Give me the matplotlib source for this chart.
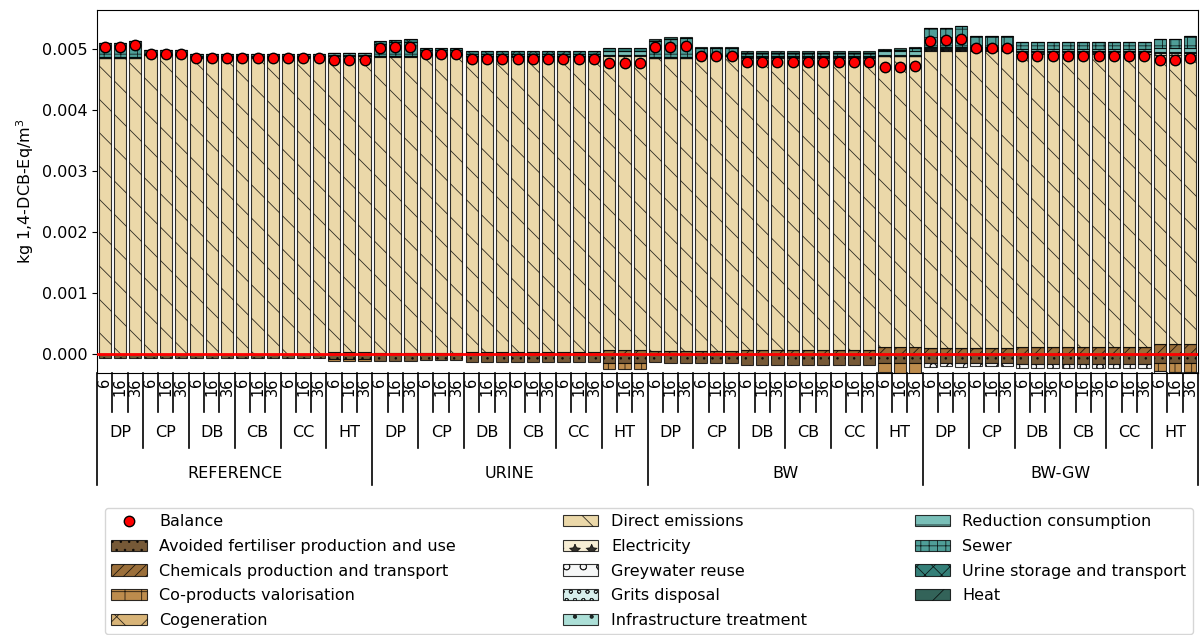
import numpy as np
import matplotlib
matplotlib.use("Agg")
import matplotlib.pyplot as plt
from matplotlib.lines import Line2D
import matplotlib.transforms as mtransforms

scenarios = ["REFERENCE", "URINE", "BW", "BW-GW"]
techs = ["DP", "CP", "DB", "CB", "CC", "HT"]
sizes = ["6", "16", "36"]

# values in 1e-3 kg 1,4-DCB-Eq/m3 ; per scenario: DP(6,16,36) CP DB CB CC HT
avoided_fertiliser = [
    -0.07, -0.07, -0.07, -0.06, -0.06, -0.06, -0.07, -0.07, -0.07, -0.07, -0.07, -0.07, -0.07, -0.07, -0.07, -0.08, -0.08, -0.08,
    -0.12, -0.12, -0.12, -0.10, -0.10, -0.10, -0.13, -0.13, -0.13, -0.13, -0.13, -0.13, -0.13, -0.13, -0.13, -0.14, -0.14, -0.14,
    -0.13, -0.15, -0.15, -0.14, -0.14, -0.14, -0.18, -0.18, -0.18, -0.18, -0.18, -0.18, -0.18, -0.18, -0.18, -0.14, -0.14, -0.14,
    -0.15, -0.14, -0.15, -0.14, -0.14, -0.14, -0.16, -0.16, -0.16, -0.16, -0.16, -0.16, -0.16, -0.16, -0.16, -0.14, -0.14, -0.14]
chemicals = [
    0.00, 0.00, 0.00, 0.00, 0.00, 0.00, 0.00, 0.00, 0.00, 0.00, 0.00, 0.00, 0.00, 0.00, 0.00, 0.04, 0.04, 0.04,
    0.02, 0.02, 0.02, 0.02, 0.02, 0.02, 0.03, 0.03, 0.03, 0.03, 0.03, 0.03, 0.03, 0.03, 0.03, 0.07, 0.07, 0.07,
    0.05, 0.05, 0.05, 0.05, 0.05, 0.05, 0.07, 0.07, 0.07, 0.07, 0.07, 0.07, 0.07, 0.07, 0.07, 0.12, 0.12, 0.12,
    0.10, 0.10, 0.10, 0.10, 0.10, 0.10, 0.12, 0.12, 0.12, 0.12, 0.12, 0.12, 0.12, 0.12, 0.12, 0.16, 0.16, 0.16]
coproducts = [
    0, 0, 0, 0, 0, 0, 0, 0, 0, 0, 0, 0, 0, 0, 0, -0.04, -0.04, -0.04,
    0, 0, 0, 0, 0, 0, 0, 0, 0, 0, 0, 0, 0, 0, 0, -0.10, -0.10, -0.10,
    0, 0, 0, 0, 0, 0, 0, 0, 0, 0, 0, 0, 0, 0, 0, -0.16, -0.17, -0.18,
    0, 0, 0, 0, 0, 0, 0, 0, 0, 0, 0, 0, 0, 0, 0, -0.14, -0.15, -0.15]
cogeneration = [0.0] * 72
direct_emissions = [
    4.85, 4.85, 4.85, 4.90, 4.90, 4.90, 4.86, 4.86, 4.86, 4.86, 4.86, 4.86, 4.86, 4.86, 4.86, 4.84, 4.84, 4.84,
    4.85, 4.85, 4.85, 4.88, 4.88, 4.88, 4.84, 4.84, 4.84, 4.84, 4.84, 4.84, 4.84, 4.84, 4.84, 4.82, 4.82, 4.82,
    4.80, 4.80, 4.80, 4.83, 4.83, 4.83, 4.79, 4.79, 4.79, 4.79, 4.79, 4.79, 4.79, 4.79, 4.79, 4.76, 4.76, 4.76,
    4.86, 4.86, 4.86, 4.86, 4.86, 4.86, 4.80, 4.80, 4.80, 4.80, 4.80, 4.80, 4.80, 4.80, 4.80, 4.74, 4.74, 4.74]
electricity = [0.01] * 54 + [0.03] * 18
greywater_reuse = [0.0] * 54 + [-0.06] * 18
grits_disposal = [0.0] * 54 + [0.01] * 18
infrastructure = [0.01] * 72
reduction_consumption = [
    0, 0, 0, 0, 0, 0, 0, 0, 0, 0, 0, 0, 0, 0, 0, 0.03, 0.03, 0.03,
    0, 0, 0, 0, 0, 0, 0, 0, 0, 0, 0, 0, 0, 0, 0, 0.05, 0.05, 0.05,
    0, 0, 0, 0, 0, 0, 0, 0, 0, 0, 0, 0, 0, 0, 0, 0.06, 0.06, 0.06,
    0.03, 0.03, 0.03, 0.03, 0.03, 0.03, 0.03, 0.03, 0.03, 0.03, 0.03, 0.03, 0.03, 0.03, 0.03, 0.06, 0.06, 0.06]
sewer = [
    0.23, 0.23, 0.26, 0.06, 0.06, 0.06, 0.04, 0.04, 0.04, 0.04, 0.04, 0.04, 0.04, 0.04, 0.04, 0.01, 0.01, 0.01,
    0.20, 0.22, 0.23, 0.06, 0.06, 0.06, 0.03, 0.03, 0.03, 0.03, 0.03, 0.03, 0.03, 0.03, 0.03, 0.01, 0.01, 0.01,
    0.27, 0.30, 0.31, 0.11, 0.11, 0.11, 0.06, 0.06, 0.06, 0.06, 0.06, 0.06, 0.06, 0.06, 0.06, 0.02, 0.03, 0.06,
    0.30, 0.31, 0.34, 0.17, 0.17, 0.17, 0.11, 0.11, 0.11, 0.11, 0.11, 0.11, 0.11, 0.11, 0.11, 0.15, 0.16, 0.20]
urine_storage = [0.0] * 18 + [0.04] * 18 + [0.0] * 36
heat = [0.0] * 36 + [0.02] * 18 + [0.0] * 18

components = [
    ("Avoided fertiliser production and use", avoided_fertiliser, ".."),
    ("Chemicals production and transport", chemicals, "///"),
    ("Co-products valorisation", coproducts, "+"),
    ("Cogeneration", cogeneration, "x"),
    ("Direct emissions", direct_emissions, "\\"),
    ("Electricity", electricity, "*"),
    ("Greywater reuse", greywater_reuse, "o"),
    ("Grits disposal", grits_disposal, "oo"),
    ("Infrastructure treatment", infrastructure, "."),
    ("Reduction consumption", reduction_consumption, "-"),
    ("Sewer", sewer, "++"),
    ("Urine storage and transport", urine_storage, "xx"),
    ("Heat", heat, "/"),
]

plt.rcParams['font.family'] = ['DejaVu Sans']
plt.rcParams['hatch.linewidth'] = 0.6

fig = plt.figure(figsize=(12.02, 6.35), dpi=100)
ax = fig.add_axes([97 / 1202, 1 - 373 / 635, (1198 - 97) / 1202, (373 - 10) / 635])

n = len(scenarios) * len(techs) * len(sizes)
x = np.arange(n)
colors = plt.cm.BrBG(np.linspace(0, 1, len(components)))
pos_bottom = np.zeros(n)
neg_bottom = np.zeros(n)
handles = []
total = np.zeros(n)
for (label, vals, hatch), col in zip(components, colors):
    v = np.array(vals, dtype=float) * 1e-3
    bottom = np.where(v >= 0, pos_bottom, neg_bottom)
    b = ax.bar(x, v, 0.8, bottom=bottom, color=col, edgecolor="black",
               linewidth=0.8, hatch=hatch, label=label, alpha=0.8)
    handles.append(b)
    pos_bottom += np.where(v >= 0, v, 0)
    neg_bottom += np.where(v < 0, v, 0)
    total += v

ax.axhline(0, color="red", linewidth=2, zorder=3)
bal, = ax.plot(x, total, "o", color="red", markeredgecolor="black",
               markersize=7.5, linestyle="none", zorder=4, label="Balance")

ax.set_xlim(-0.5, n - 0.5)
ax.set_ylim(-0.00031, 0.00564)
ax.set_xticks([])
ax.set_yticks(np.arange(0, 0.0051, 0.001))
ax.yaxis.set_major_formatter(matplotlib.ticker.FormatStrFormatter("%.3f"))
ax.tick_params(axis="y", labelsize=11.5)
ax.set_ylabel("kg 1,4-DCB-Eq/m$^3$", fontsize=11.5)

# hierarchical x labels
trans = mtransforms.blended_transform_factory(ax.transData, ax.transAxes)
d1, d2, d3 = -0.107, -0.207, -0.309
for i in range(n + 1):
    xb = i - 0.5
    if i % 18 == 0:
        d = d3
    elif i % 3 == 0:
        d = d2
    else:
        d = d1
    ax.add_line(Line2D([xb, xb], [0, d], transform=trans, color="black",
                       linewidth=1.2, clip_on=False))
for i in range(n):
    ax.text(i, -0.012, sizes[i % 3], transform=trans, rotation=90,
            ha="center", va="top", fontsize=10.5)
for g in range(len(scenarios) * len(techs)):
    ax.text(g * 3 + 1, -0.163, techs[g % len(techs)], transform=trans,
            ha="center", va="center", fontsize=11.5)
for s, name in enumerate(scenarios):
    ax.text(s * 18 + 8.5, -0.276, name, transform=trans,
            ha="center", va="center", fontsize=11.5)

fig.legend([bal] + handles, ["Balance"] + [c[0] for c in components],
           ncol=3, mode="expand", loc="upper left",
           bbox_to_anchor=(105 / 1202, 1 - 632 / 635, (1193 - 105) / 1202, (632 - 508) / 635),
           fontsize=11.5, frameon=True, handlelength=2.2, labelspacing=0.6,
           borderaxespad=0)

fig.savefig("out.png", dpi=100)
